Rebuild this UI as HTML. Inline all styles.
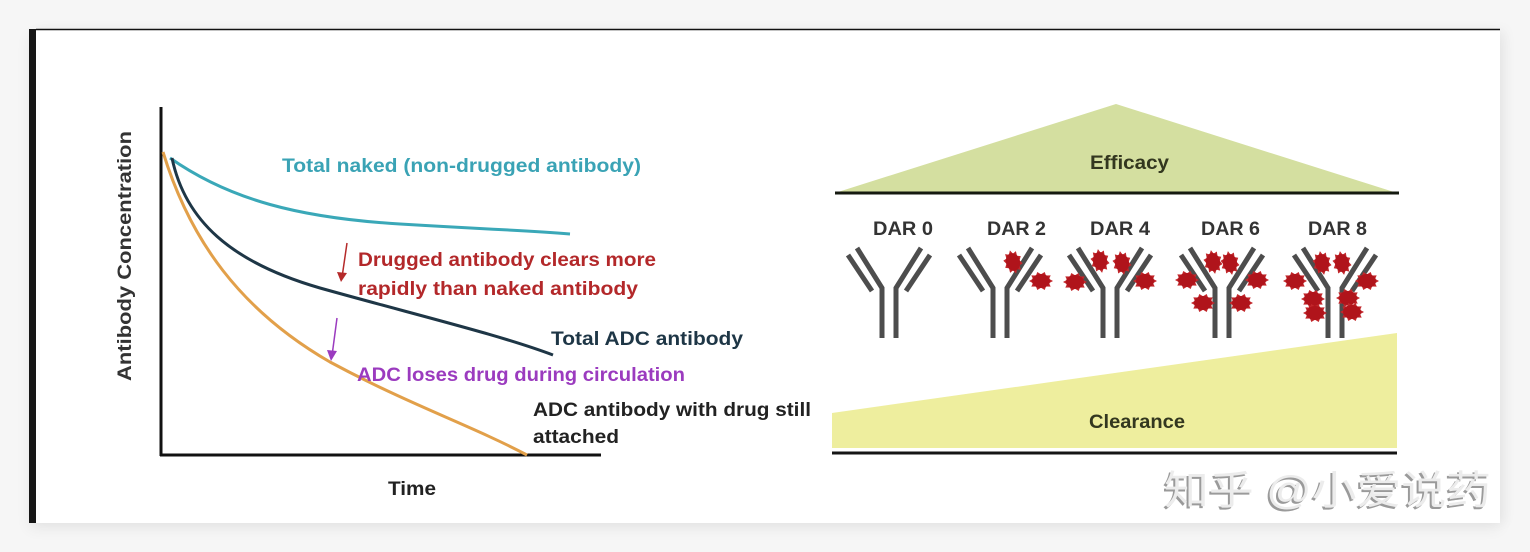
<!DOCTYPE html>
<html>
<head>
<meta charset="utf-8">
<style>
  html,body{margin:0;padding:0;background:#f6f6f6;}
  body{width:1530px;height:552px;position:relative;overflow:hidden;}
  .card{position:absolute;left:29px;top:29px;width:1471px;height:494px;background:#fff;
        box-shadow:0 6px 14px rgba(0,0,0,0.06), 6px 0 12px rgba(0,0,0,0.04);}
  svg{position:absolute;left:0;top:0;}
  text{font-family:"Liberation Sans","Noto Sans CJK SC",sans-serif;font-weight:bold;}
</style>
</head>
<body>
<div class="card"></div>
<svg width="1530" height="552" viewBox="0 0 1530 552" xmlns="http://www.w3.org/2000/svg">
  <defs>
    <g id="drug">
      <polygon points="12,0 8.08,2.1 9.71,5.59 5,5.5 3.71,9.03 0,6.8 -3.71,9.03 -5,5.5 -9.71,5.59 -8.08,2.1 -12,0 -8.08,-2.1 -9.71,-5.59 -5,-5.5 -3.71,-9.03 0,-6.8 3.71,-9.03 5,-5.5 9.71,-5.59 8.08,-2.1" fill="#c2272b"/>
      <ellipse cx="0" cy="0" rx="9" ry="7" fill="#b0141b"/>
    </g>
    <g id="ab" fill="none" stroke="#4d4d4d" stroke-width="5" stroke-linejoin="miter">
      <polyline points="-7,338 -7,288 -32,248"/>
      <polyline points="7,338 7,288 32,248"/>
      <line x1="-41" y1="255" x2="-17" y2="291"/>
      <line x1="41" y1="255" x2="17" y2="291"/>
    </g>
  </defs>

  <!-- card border -->
  <rect x="29" y="29" width="7" height="494" fill="#161616"/>
  <line x1="36" y1="29.5" x2="1500" y2="29.5" stroke="#111" stroke-width="1.5"/>

  <!-- ===== Left chart ===== -->
  <line x1="161" y1="107" x2="161" y2="456" stroke="#111" stroke-width="3"/>
  <line x1="160" y1="455" x2="601" y2="455" stroke="#111" stroke-width="3"/>

  <path d="M170,158 C230,200 300,218 400,224 S520,230 570,234" fill="none" stroke="#3aa8b8" stroke-width="3"/>
  <path d="M172,158 C185,220 230,262 320,288 C420,316 500,335 553,355" fill="none" stroke="#1e3646" stroke-width="3"/>
  <path d="M163,152 C190,240 240,310 330,362 C410,405 470,425 527,455" fill="none" stroke="#e2a04a" stroke-width="3"/>

  <!-- arrows -->
  <line x1="347" y1="243" x2="342.5" y2="274" stroke="#b52a2a" stroke-width="1.5"/>
  <polygon points="337,272 347,273 341,282" fill="#b52a2a"/>
  <line x1="337" y1="318" x2="332.5" y2="352" stroke="#9b3bbf" stroke-width="1.5"/>
  <polygon points="327,350 337,351 331,361" fill="#9b3bbf"/>

  <text x="282" y="172" font-size="19" fill="#3aa3b5" textLength="359" lengthAdjust="spacingAndGlyphs">Total naked (non-drugged antibody)</text>
  <text x="358" y="266" font-size="19" fill="#b3282a" textLength="298" lengthAdjust="spacingAndGlyphs">Drugged antibody clears more</text>
  <text x="358" y="295" font-size="19" fill="#b3282a" textLength="280" lengthAdjust="spacingAndGlyphs">rapidly than naked antibody</text>
  <text x="551" y="345" font-size="19" fill="#1e3646" textLength="192" lengthAdjust="spacingAndGlyphs">Total ADC antibody</text>
  <text x="357" y="381" font-size="19" fill="#9b3bbf" textLength="328" lengthAdjust="spacingAndGlyphs">ADC loses drug during circulation</text>
  <text x="533" y="416" font-size="19" fill="#222" textLength="278" lengthAdjust="spacingAndGlyphs">ADC antibody with drug still</text>
  <text x="533" y="443" font-size="19" fill="#222" textLength="86" lengthAdjust="spacingAndGlyphs">attached</text>
  <text x="388" y="495" font-size="19" fill="#222" textLength="48" lengthAdjust="spacingAndGlyphs">Time</text>
  <text x="0" y="0" font-size="19" fill="#333" text-anchor="middle" transform="translate(131,256) rotate(-90)" textLength="250" lengthAdjust="spacingAndGlyphs">Antibody Concentration</text>

  <!-- ===== Right diagram ===== -->
  <polygon points="838,192 1116,104 1394,192" fill="#d4dfa0"/>
  <line x1="835" y1="193" x2="1399" y2="193" stroke="#151a10" stroke-width="3"/>
  <text x="1090" y="169" font-size="19" fill="#33371f" textLength="79" lengthAdjust="spacingAndGlyphs">Efficacy</text>

  <polygon points="832,413 1397,333 1397,448 832,448" fill="#eeee9e"/>
  <line x1="832" y1="453" x2="1397" y2="453" stroke="#151515" stroke-width="3"/>
  <text x="1089" y="428" font-size="19" fill="#33371f" textLength="96" lengthAdjust="spacingAndGlyphs">Clearance</text>

  <text x="873" y="235" font-size="19" fill="#333" textLength="60" lengthAdjust="spacingAndGlyphs">DAR 0</text>
  <text x="987" y="235" font-size="19" fill="#333" textLength="59" lengthAdjust="spacingAndGlyphs">DAR 2</text>
  <text x="1090" y="235" font-size="19" fill="#333" textLength="60" lengthAdjust="spacingAndGlyphs">DAR 4</text>
  <text x="1201" y="235" font-size="19" fill="#333" textLength="59" lengthAdjust="spacingAndGlyphs">DAR 6</text>
  <text x="1308" y="235" font-size="19" fill="#333" textLength="59" lengthAdjust="spacingAndGlyphs">DAR 8</text>

  <!-- antibodies -->
  <use href="#ab" transform="translate(889,0)"/>
  <use href="#ab" transform="translate(1000,0)"/>
  <use href="#ab" transform="translate(1110,0)"/>
  <use href="#ab" transform="translate(1222,0)"/>
  <use href="#ab" transform="translate(1335,0)"/>

  <!-- drugs DAR2 -->
  <use href="#drug" transform="translate(1013,262) rotate(75)"/>
  <use href="#drug" transform="translate(1041,281)"/>
  <!-- DAR4 -->
  <use href="#drug" transform="translate(1075,282)"/>
  <use href="#drug" transform="translate(1100,261) rotate(80)"/>
  <use href="#drug" transform="translate(1122,263) rotate(80)"/>
  <use href="#drug" transform="translate(1145,281)"/>
  <!-- DAR6 -->
  <use href="#drug" transform="translate(1187,280)"/>
  <use href="#drug" transform="translate(1213,262) rotate(80)"/>
  <use href="#drug" transform="translate(1230,263) rotate(80)"/>
  <use href="#drug" transform="translate(1257,280)"/>
  <use href="#drug" transform="translate(1203,303)"/>
  <use href="#drug" transform="translate(1241,303)"/>
  <!-- DAR8 -->
  <use href="#drug" transform="translate(1295,281)"/>
  <use href="#drug" transform="translate(1322,263) rotate(80)"/>
  <use href="#drug" transform="translate(1342,263) rotate(80)"/>
  <use href="#drug" transform="translate(1367,281)"/>
  <use href="#drug" transform="translate(1313,299)"/>
  <use href="#drug" transform="translate(1348,298)"/>
  <use href="#drug" transform="translate(1315,313)"/>
  <use href="#drug" transform="translate(1352,312)"/>

  <!-- watermark -->
  <text x="1162" y="506" font-size="40" fill="#9a9a9a" style="font-weight:normal" textLength="327" lengthAdjust="spacingAndGlyphs">知乎 @小爱说药</text>
  <text x="1164" y="504" font-size="40" fill="#ececec" style="font-weight:normal" textLength="327" lengthAdjust="spacingAndGlyphs">知乎 @小爱说药</text>
</svg>
</body>
</html>
